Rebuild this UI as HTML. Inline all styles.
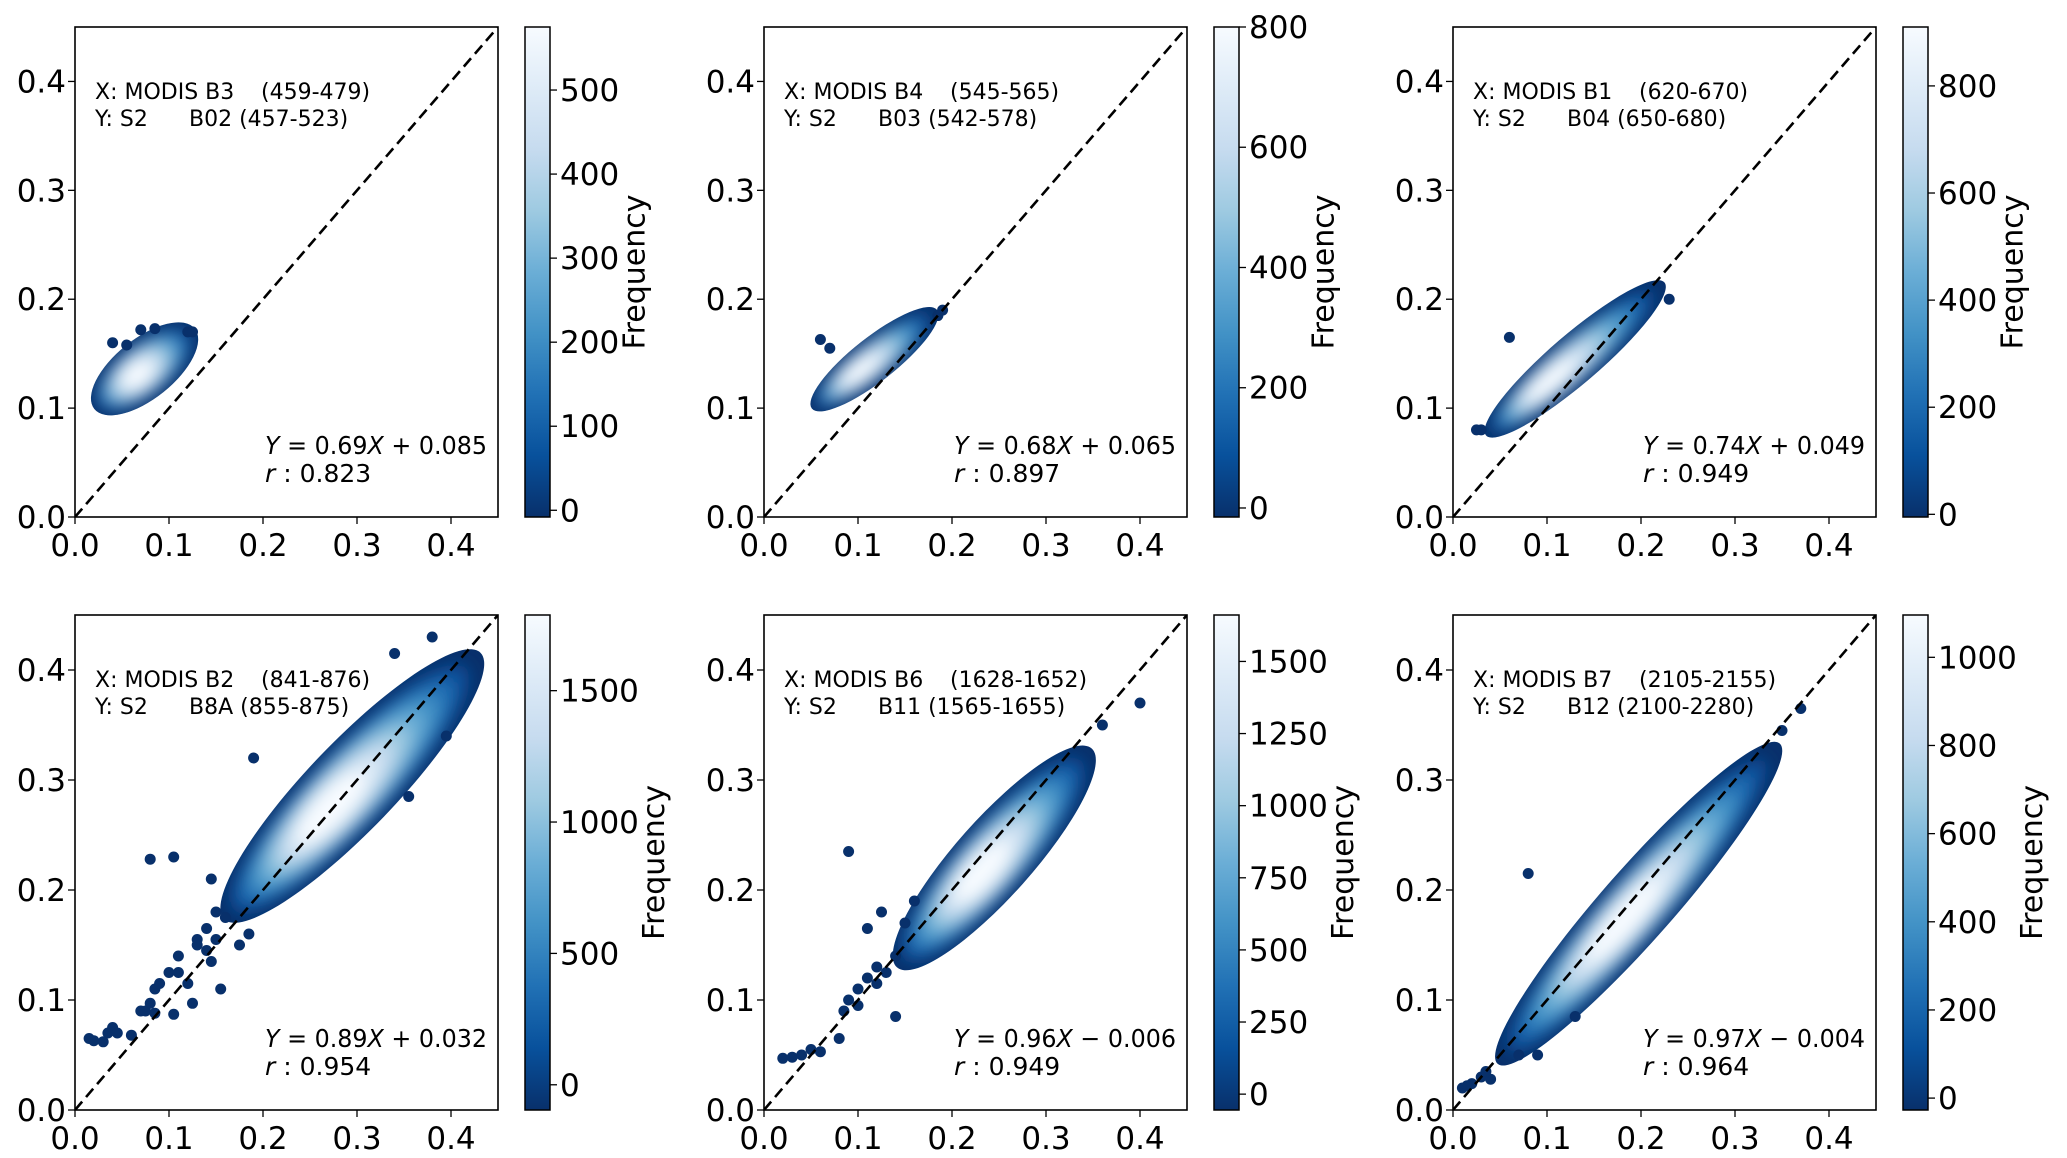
<!DOCTYPE html>
<html><head><meta charset="utf-8"><style>
body{margin:0;background:#fff;}
svg{display:block;font-family:"DejaVu Sans","Liberation Sans",sans-serif;}
</style></head><body>
<svg id="fig" width="2067" height="1158" viewBox="0 0 2067 1158">
<defs>
<linearGradient id="blues" x1="0" y1="1" x2="0" y2="0">
<stop offset="0" stop-color="#08306b"/><stop offset="0.125" stop-color="#08519c"/>
<stop offset="0.25" stop-color="#2171b5"/><stop offset="0.375" stop-color="#4292c6"/>
<stop offset="0.5" stop-color="#6baed6"/><stop offset="0.625" stop-color="#9ecae1"/>
<stop offset="0.75" stop-color="#c6dbef"/><stop offset="0.875" stop-color="#deebf7"/>
<stop offset="1" stop-color="#f7fbff"/></linearGradient>
<filter id="blur" x="-50%" y="-50%" width="200%" height="200%"><feGaussianBlur stdDeviation="8"/></filter>
</defs>
</svg>
<script>
const xLabels=["X: MODIS B3","X: MODIS B4","X: MODIS B1","X: MODIS B2","X: MODIS B6","X: MODIS B7"];
const xRanges=["(459-479)","(545-565)","(620-670)","(841-876)","(1628-1652)","(2105-2155)"];
const yBands=["B02","B03","B04","B8A","B11","B12"];
const yRanges=["(457-523)","(542-578)","(650-680)","(855-875)","(1565-1655)","(2100-2280)"];
const fitSlopes=[0.69,0.68,0.74,0.89,0.96,0.97];
const fitIntercepts=[0.085,0.065,0.049,0.032,-0.006,-0.004];
const rValues=["0.823","0.897","0.949","0.954","0.949","0.964"];
const cloudStartX=[0.033,0.06,0.045,0.175,0.155,0.06];
const cloudEndX=[0.115,0.175,0.215,0.415,0.335,0.335];
const cloudWidth=[0.055,0.04,0.045,0.08,0.07,0.065];
const coreX=[0.065,0.10,0.10,0.27,0.23,0.18];
const cbMin=[-8,-15,-5,-96,-55,-27];
const cbMax=[575,800,910,1788,1661,1096];
const cbStep=[100,200,200,500,250,200];
const cbTop=[500,800,800,1500,1500,1000];
const axisTicks=[0.0,0.1,0.2,0.3,0.4];
const outX=[
[0.04,0.055,0.12,0.125,0.07,0.085],
[0.06,0.07,0.19,0.185],
[0.06,0.23,0.025,0.03],
[0.015,0.02,0.03,0.035,0.04,0.045,0.06,0.07,0.075,0.08,0.085,0.08,0.105,0.085,0.09,0.1,0.105,0.11,0.11,0.12,0.125,0.13,0.13,0.14,0.14,0.145,0.15,0.155,0.15,0.16,0.145,0.19,0.38,0.34,0.175,0.185,0.395,0.355],
[0.02,0.03,0.04,0.05,0.06,0.08,0.085,0.09,0.1,0.1,0.11,0.12,0.12,0.13,0.14,0.11,0.14,0.09,0.125,0.15,0.4,0.36,0.16],
[0.01,0.015,0.02,0.03,0.04,0.035,0.08,0.37,0.35,0.13,0.07,0.09]];
const outY=[
[0.16,0.158,0.17,0.17,0.172,0.173],
[0.163,0.155,0.19,0.185],
[0.165,0.2,0.08,0.08],
[0.065,0.063,0.062,0.07,0.075,0.07,0.068,0.09,0.09,0.097,0.088,0.228,0.23,0.11,0.115,0.125,0.087,0.125,0.14,0.115,0.097,0.15,0.155,0.165,0.145,0.135,0.155,0.11,0.18,0.175,0.21,0.32,0.43,0.415,0.15,0.16,0.34,0.285],
[0.047,0.048,0.05,0.055,0.053,0.065,0.09,0.1,0.095,0.11,0.12,0.13,0.115,0.125,0.14,0.165,0.085,0.235,0.18,0.17,0.37,0.35,0.19],
[0.02,0.022,0.024,0.03,0.028,0.035,0.215,0.365,0.345,0.085,0.05,0.05]];

const NS="http://www.w3.org/2000/svg";
const fig=document.getElementById('fig');
function mk(tag,attrs,parent){const e=document.createElementNS(NS,tag);for(const k in attrs)e.setAttribute(k,attrs[k]);(parent||fig).appendChild(e);return e;}
const boxL=[75,764,1453], boxW=423;
const boxT=[27,615], boxH=[490,495];
const shades=["#08306b","#08519c","#2171b5","#4292c6","#6baed6","#9ecae1","#c6dbef","#deebf7","#f7fbff"];

for(let p=0;p<6;p++){
  const col=p%3,row=Math.floor(p/3);
  const L=boxL[col],T=boxT[row],W=boxW,H=boxH[row];
  const sx=v=>L+v/0.45*W, sy=v=>T+H-v/0.45*H;
  const g=mk('g',{});
  
  
  const clipId='clip'+p;
  const cp=mk('clipPath',{id:clipId},g);mk('rect',{x:L,y:T,width:W,height:H},cp);
  const plot=mk('g',{'clip-path':'url(#'+clipId+')'},g);
  const a=fitSlopes[p],b=fitIntercepts[p];
  const x0=sx(cloudStartX[p]),y0=sy(a*cloudStartX[p]+b),x1=sx(cloudEndX[p]),y1=sy(a*cloudEndX[p]+b);
  const ang=Math.atan2(y1-y0,x1-x0)*180/Math.PI;
  const len=Math.hypot(x1-x0,y1-y0);
  const hw=cloudWidth[p]/0.45*H/2;
  const cx=(x0+x1)/2,cy=(y0+y1)/2;
  const RX=len/2+hw*0.5;
  const cloud=mk('ellipse',{cx:cx,cy:cy,rx:RX,ry:hw,fill:'#08306b',transform:`rotate(${ang} ${cx} ${cy})`},plot);
  
  
  const ccId='cc'+p;const cc=mk('clipPath',{id:ccId},g);
  mk('ellipse',{cx:cx,cy:cy,rx:RX,ry:hw,transform:`rotate(${ang} ${cx} ${cy})`},cc);
  const inner=mk('g',{'clip-path':'url(#'+ccId+')'},plot);
  const blurG=mk('g',{filter:'url(#blur)'},inner);
  const kx=sx(coreX[p]),ky=sy(a*coreX[p]+b);
  for(let k=1;k<shades.length;k++){
    const f=1-k/shades.length;
    const ecx=kx+(cx-kx)*f,ecy=ky+(cy-ky)*f;
    mk('ellipse',{cx:ecx,cy:ecy,rx:RX*(0.15+0.85*f),ry:hw*(0.3+0.65*f),fill:shades[k],transform:`rotate(${ang} ${ecx} ${ecy})`},blurG);
  }
  for(let i=0;i<outX[p].length;i++){
    const c=mk('circle',{cx:sx(outX[p][i]),cy:sy(outY[p][i]),r:5.5,fill:'#08306b'},plot);
    
    
  }
  const d=mk('line',{x1:sx(0),y1:sy(0),x2:sx(0.45),y2:sy(0.45),stroke:'#000','stroke-width':2.6,'stroke-dasharray':'11 6'},plot);
  
  
  const fr=mk('rect',{x:L,y:T,width:W,height:H,fill:'none',stroke:'#000','stroke-width':1.6},g);
  
  
  for(const t of axisTicks){
    mk('line',{x1:sx(t),y1:T+H,x2:sx(t),y2:T+H+7,stroke:'#000','stroke-width':1.3},g);
    const xt=mk('text',{x:sx(t),y:T+H+39,'font-size':31,'text-anchor':'middle'},g);xt.textContent=t.toFixed(1);
    
    
    mk('line',{x1:L-7,y1:sy(t),x2:L,y2:sy(t),stroke:'#000','stroke-width':1.3},g);
    const yt=mk('text',{x:L-9,y:sy(t)+11,'font-size':31,'text-anchor':'end'},g);yt.textContent=t.toFixed(1);
    
    
  }
  const an=mk('text',{x:L+20,y:T+72,'font-size':22},g);
  
  
  an.textContent=xLabels[p];
  const an2=mk('text',{x:L+186,y:T+72,'font-size':22},g);an2.textContent=xRanges[p];
  const bn=mk('text',{x:L+20,y:T+99,'font-size':22},g);bn.textContent="Y: S2";
  
  
  const bn2=mk('text',{x:L+114,y:T+99,'font-size':22},g);bn2.textContent=yBands[p]+" "+yRanges[p];
  const eq=mk('text',{x:L+190,y:T+H-63,'font-size':25,textLength:222,lengthAdjust:'spacingAndGlyphs'},g);
  
  
  const sgn=fitIntercepts[p]<0?" − ":" + ";
  eq.innerHTML=`<tspan font-style="italic">Y</tspan> = ${fitSlopes[p].toFixed(2)}<tspan font-style="italic">X</tspan>${sgn}${Math.abs(fitIntercepts[p]).toFixed(3)}`;
  const rt=mk('text',{x:L+190,y:T+H-35,'font-size':25},g);
  
  
  rt.innerHTML=`<tspan font-style="italic">r</tspan> : ${rValues[p]}`;
  const cbx=L+W+27,cbw=25;
  const cb=mk('rect',{x:cbx,y:T,width:cbw,height:H,fill:'url(#blues)',stroke:'#000','stroke-width':1.5},g);
  
  
  const cy2=v=>T+H-(v-cbMin[p])/(cbMax[p]-cbMin[p])*H;
  let maxw=0;
  for(let v=0;v<=cbTop[p];v+=cbStep[p]){
    mk('line',{x1:cbx+cbw,y1:cy2(v),x2:cbx+cbw+7,y2:cy2(v),stroke:'#000','stroke-width':1.3},g);
    const tt=mk('text',{x:cbx+cbw+10,y:cy2(v)+11,'font-size':31},g);tt.textContent=String(v);
    
    
    maxw=Math.max(maxw,String(v).length);
  }
  const fx=cbx+cbw+36+maxw*19.5;
  const fl=mk('text',{x:fx,y:T+H/2,'font-size':30,'text-anchor':'middle',transform:`rotate(-90 ${fx} ${T+H/2})`},g);
  fl.textContent="Frequency";
  
  
}
</script>
</body></html>
